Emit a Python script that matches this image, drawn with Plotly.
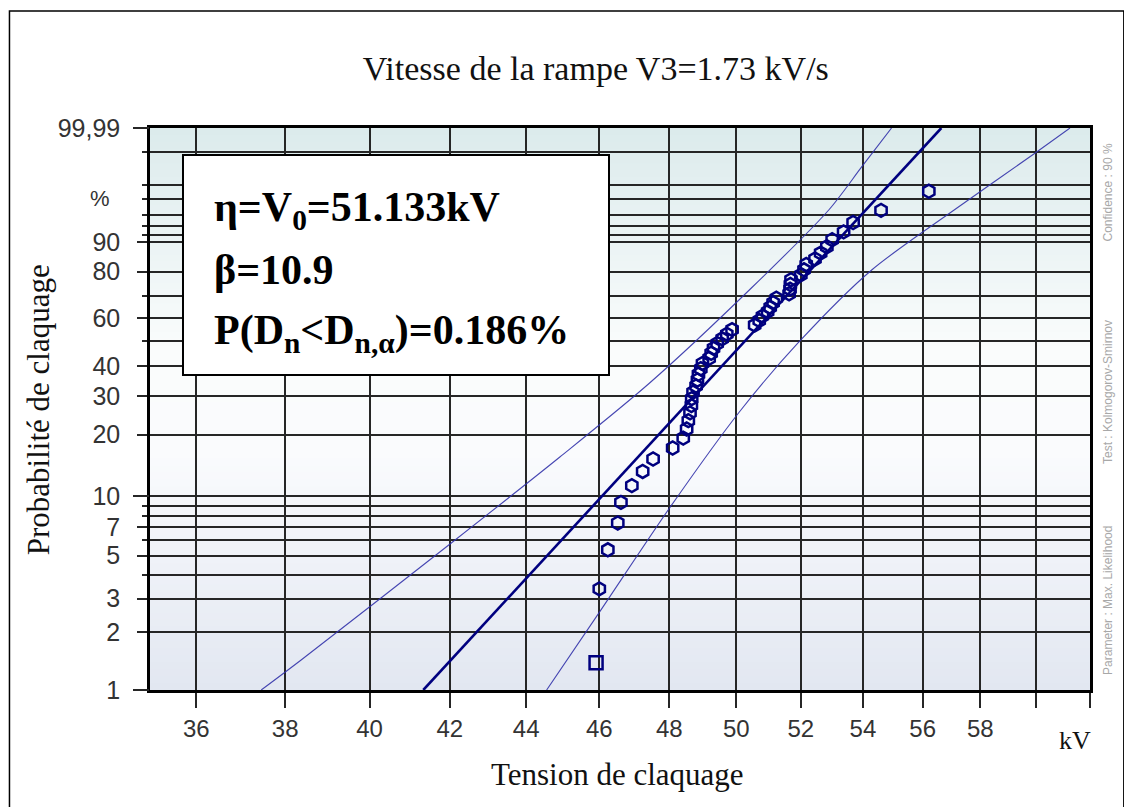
import numpy as np
import plotly.graph_objects as go

# ---------------- data ----------------
kv = [45.91, 46.00, 46.24, 46.52, 46.61, 46.92, 47.23, 47.53, 48.10, 48.41,
      48.51, 48.56, 48.61, 48.65, 48.66, 48.70, 48.79, 48.83, 48.86, 48.93,
      48.98, 49.18, 49.24, 49.31, 49.42, 49.57, 49.71, 49.87, 50.56, 50.70,
      50.80, 50.96, 51.04, 51.13, 51.23, 51.63, 51.66, 51.67, 51.69, 52.00,
      52.10, 52.17, 52.45, 52.63, 52.83, 53.00, 53.37, 53.68, 54.60, 56.21]
pct = [1.39, 3.37, 5.36, 7.34, 9.33, 11.31, 13.29, 15.28, 17.26, 19.25,
       21.23, 23.21, 25.20, 27.18, 29.17, 31.15, 33.13, 35.12, 37.10, 39.09,
       41.07, 43.06, 45.04, 47.02, 49.01, 50.99, 52.98, 54.96, 56.94, 58.93,
       60.91, 62.90, 64.88, 66.87, 68.85, 70.83, 72.82, 74.80, 76.79, 78.77,
       80.75, 82.74, 84.72, 86.71, 88.69, 90.67, 92.66, 94.64, 96.63, 98.61]

fit_kv = [41.33, 56.64]
fit_pct = [1.0, 99.99]

lo_kv = [37.45, 38.37, 42.04, 44.91, 47.43, 50.49, 52.89, 53.96, 54.95]
lo_pct = [1.0, 1.436, 5.81, 15.63, 34.10, 73.75, 96.68, 99.679, 99.99]

hi_kv = [44.55, 46.01, 48.01, 50.09, 51.94, 54.29, 57.23, 59.97, 61.25]
hi_pct = [1.0, 2.56, 8.75, 25.43, 49.65, 80.68, 97.07, 99.889, 99.99]

x_ticks = [36, 38, 40, 42, 44, 46, 48, 50, 52, 54, 56, 58]
x_labels = ["36", "38", "40", "42", "44", "46", "48", "50", "52", "54", "56", "58"]
x_minor = [60, 62]
y_major = [1, 2, 3, 5, 7, 10, 20, 30, 40, 60, 80, 90, 99.99]
y_major_labels = ["1", "2", "3", "5", "7", "10", "20", "30", "40", "60", "80", "90", "99,99"]
y_minor = [4, 6, 8, 9, 50, 70, 92, 94, 96, 98, 99, 99.9]
y_long = [1, 10, 99.99]


def weib(p):
    p = np.asarray(p, dtype=float) / 100.0
    return np.log(-np.log(1.0 - p))


SERIF = "Liberation Serif, Times New Roman, serif"
SANS = "Liberation Sans, Arial, sans-serif"
NAVY = "#00007f"
GRID = "#262626"

fig = go.Figure()

fig.add_trace(go.Scatter(x=lo_kv, y=weib(lo_pct), mode="lines",
                         line=dict(color="rgba(50,50,170,0.9)", width=1.1, shape="spline", smoothing=0.8),
                         hoverinfo="skip", showlegend=False))
fig.add_trace(go.Scatter(x=hi_kv, y=weib(hi_pct), mode="lines",
                         line=dict(color="rgba(50,50,170,0.9)", width=1.1, shape="spline", smoothing=0.8),
                         hoverinfo="skip", showlegend=False))
fig.add_trace(go.Scatter(x=fit_kv, y=weib(fit_pct), mode="lines",
                         line=dict(color=NAVY, width=2.6),
                         hoverinfo="skip", showlegend=False))
symbols = ["square-open"] + ["hexagon-open"] * (len(kv) - 1)
fig.add_trace(go.Scatter(x=kv, y=weib(pct), mode="markers",
                         marker=dict(symbol=symbols, size=13, color=NAVY,
                                     line=dict(color=NAVY, width=2.5)),
                         showlegend=False))
# helper trace for the overlay axis carrying the long ticks
fig.add_trace(go.Scatter(x=fit_kv, y=weib(fit_pct), yaxis="y2", mode="lines",
                         line=dict(width=0, color="rgba(0,0,0,0)"),
                         hoverinfo="skip", showlegend=False))

yr = [float(weib(1.0)), float(weib(99.99))]

# background gradient bands
stops = [(0.0, (226, 231, 241)), (0.42, (250, 251, 253)), (0.6, (250, 252, 252)), (1.0, (220, 235, 236))]


def col_at(t):
    for (t0, c0), (t1, c1) in zip(stops[:-1], stops[1:]):
        if t0 <= t <= t1:
            f = (t - t0) / (t1 - t0)
            return tuple(int(round(c0[i] + (c1[i] - c0[i]) * f)) for i in range(3))
    return stops[-1][1]


shapes = []
nb = 80
for k in range(nb):
    y0 = k / nb
    y1 = (k + 1) / nb
    c = col_at((y0 + y1) / 2)
    shapes.append(dict(type="rect", xref="paper", yref="paper", x0=0, x1=1, y0=y0, y1=y1 + 0.002,
                       fillcolor="rgb(%d,%d,%d)" % c, line=dict(width=0), layer="below"))

# text box
shapes.append(dict(type="rect", xref="paper", yref="paper", x0=0.0351, x1=0.4883, y0=0.5605, y1=0.952,
                   fillcolor="white", line=dict(color="black", width=2), layer="above"))
# outer figure frame
shapes.append(dict(type="rect", xref="paper", yref="paper", x0=-0.1495, x1=1.036, y0=-0.30, y1=1.208,
                   fillcolor="rgba(0,0,0,0)", line=dict(color="black", width=1.5), layer="above"))

annotations = [
    dict(text="<b>η=V<sub>0</sub>=51.133kV</b>", xref="paper", yref="paper", x=0.066, y=0.854,
         xanchor="left", yanchor="middle", showarrow=False, font=dict(family=SERIF, size=42, color="black")),
    dict(text="<b>β=10.9</b>", xref="paper", yref="paper", x=0.066, y=0.747,
         xanchor="left", yanchor="middle", showarrow=False, font=dict(family=SERIF, size=42, color="black")),
    dict(text="<b>P(D<sub>n</sub>&lt;D<sub>n,α</sub>)=0.186%</b>", xref="paper", yref="paper", x=0.066, y=0.635,
         xanchor="left", yanchor="middle", showarrow=False, font=dict(family=SERIF, size=42, color="black")),
    dict(text="%", xref="paper", yref="y", x=-0.053, y=float(weib(98)), xanchor="center", yanchor="middle",
         showarrow=False, font=dict(family=SANS, size=22, color="#333")),
    dict(text="kV", xref="paper", yref="paper", x=0.984, y=-0.089, xanchor="center", yanchor="middle",
         showarrow=False, font=dict(family=SERIF, size=26, color="#111")),
    dict(text="Tension de claquage", xref="paper", yref="paper", x=0.497, y=-0.151, xanchor="center",
         yanchor="middle", showarrow=False, font=dict(family=SERIF, size=31, color="#111")),
    dict(text="Probabilité de claquage", xref="paper", yref="paper", x=-0.119, y=0.498, xanchor="center",
         yanchor="middle", textangle=-90, showarrow=False, font=dict(family=SERIF, size=31, color="#111")),
    dict(text="Parameter : Max. Likelihood", xref="paper", yref="paper", x=1.019, y=0.160, xanchor="center",
         yanchor="middle", textangle=-90, showarrow=False, font=dict(family=SANS, size=12, color="#a8a8a8")),
    dict(text="Test : Kolmogorov-Smirnov", xref="paper", yref="paper", x=1.019, y=0.530, xanchor="center",
         yanchor="middle", textangle=-90, showarrow=False, font=dict(family=SANS, size=12, color="#a8a8a8")),
    dict(text="Confidence : 90 %", xref="paper", yref="paper", x=1.019, y=0.885, xanchor="center",
         yanchor="middle", textangle=-90, showarrow=False, font=dict(family=SANS, size=12, color="#a8a8a8")),
]

fig.update_layout(
    width=1124, height=799,
    margin=dict(l=142, r=42, t=120, b=117),
    paper_bgcolor="white", plot_bgcolor="white",
    title=dict(text="Vitesse de la rampe V3=1.73 kV/s", x=0.523, xanchor="center",
               y=1 - 60 / 799, yanchor="middle", yref="container",
               font=dict(family=SERIF, size=34, color="#111")),
    xaxis=dict(type="log", range=[np.log10(35), np.log10(62)], tickmode="array",
               tickvals=x_ticks, ticktext=x_labels, ticks="outside", ticklen=15, tickwidth=1.6,
               tickcolor=GRID, showgrid=True, gridcolor=GRID, gridwidth=1.5, zeroline=False,
               minor=dict(tickmode="array", tickvals=x_minor, ticks="outside", ticklen=15,
                          tickwidth=1.6, tickcolor=GRID, showgrid=True, gridcolor=GRID, gridwidth=1.5),
               showline=True, mirror=True, linecolor="black", linewidth=2.5,
               tickfont=dict(family=SANS, size=24, color="#333")),
    yaxis=dict(range=yr, tickmode="array", tickvals=weib(y_major).tolist(), ticktext=y_major_labels,
               ticks="outside", ticklen=10, tickwidth=1.6, tickcolor=GRID,
               showgrid=True, gridcolor=GRID, gridwidth=1.5, zeroline=False,
               minor=dict(tickmode="array", tickvals=weib(y_minor).tolist(), ticks="outside",
                          ticklen=5, tickwidth=1.5, tickcolor=GRID, showgrid=True,
                          gridcolor=GRID, gridwidth=1.5),
               showline=True, mirror=True, linecolor="black", linewidth=2.5,
               ticklabelstandoff=12,
               tickfont=dict(family=SANS, size=25, color="#333")),
    yaxis2=dict(range=yr, overlaying="y", side="left", tickmode="array", tickvals=weib(y_long).tolist(),
                ticks="outside", ticklen=16, tickwidth=1.6, tickcolor=GRID, showticklabels=False,
                showgrid=False, zeroline=False, showline=False),
    shapes=shapes,
    annotations=annotations,
    showlegend=False,
)

fig.write_html("out.html")
